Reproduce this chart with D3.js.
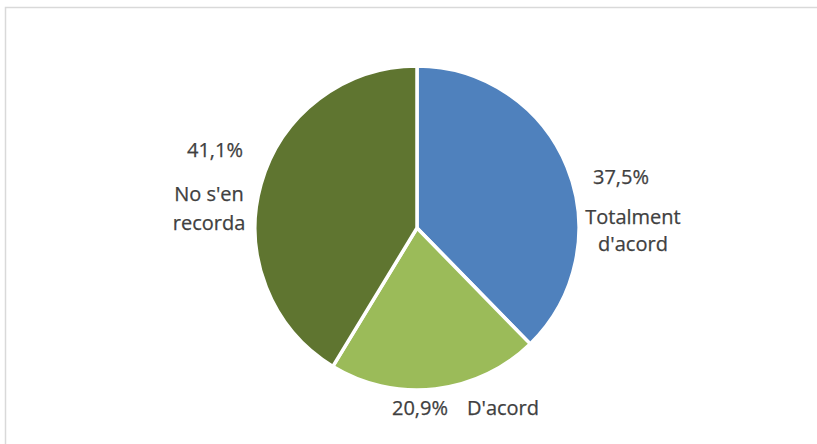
<!DOCTYPE html>
<html>
<head>
<meta charset="utf-8">
<script src="https://cdn.jsdelivr.net/npm/d3@7"></script>
<style>
  html, body { margin: 0; padding: 0; background: #fff; }
  svg { display: block; }
</style>
</head>
<body>
<svg id="chart" width="817" height="444"></svg>
<script>
const categories = ["Totalment d'acord", "D'acord", "No s'en recorda"];
const values = [37.5, 20.9, 41.1];
const percentLabels = ["37,5%", "20,9%", "41,1%"];
const nameLines = [["Totalment", "d'acord"], ["D'acord"], ["No s'en", "recorda"]];
const colors = ["#4F81BD", "#9BBB59", "#5F7530"];

const W = 817, H = 444;
const cx = 417, cy = 228, R = 162;
const svg = d3.select("#chart");

// chart area border
svg.append("rect")
  .attr("x", 5.5).attr("y", 7.5)
  .attr("width", W + 10).attr("height", H + 10)
  .attr("fill", "none").attr("stroke", "#d9d9d9").attr("stroke-width", 1.5);

const pie = d3.pie().value(d => d).sort(null);
const arcs = pie(values);
const arc = d3.arc().innerRadius(0).outerRadius(R);

const g = svg.append("g").attr("transform", `translate(${cx},${cy})`);
g.selectAll("path").data(arcs).enter().append("path")
  .attr("d", arc)
  .attr("fill", (d, i) => colors[i])
  .attr("stroke", "#fff")
  .attr("stroke-width", 3.5)
  .attr("stroke-linejoin", "miter");

// label layout (offsets relative to pie centre)
const fontSize = 20;
const layout = [
  { pct: { x: 204, y: -44, anchor: "middle" }, name: { x: 216, y: [-4, 23], anchor: "middle" } },
  { pct: { x: -25, y: 187, anchor: "start" }, name: { x: 50, y: [187], anchor: "start" } },
  { pct: { x: -202, y: -71, anchor: "middle" }, name: { x: -208, y: [-27, 2], anchor: "middle" } }
];

const text = svg.append("g")
  .attr("transform", `translate(${cx},${cy})`)
  .style("font-family", "'Open Sans', 'Noto Sans', sans-serif")
  .style("font-size", fontSize + "px")
  .attr("fill", "#404040")
  .attr("stroke", "#404040")
  .attr("stroke-width", 0.25);

arcs.forEach((a, i) => {
  const L = layout[i];
  text.append("text")
    .attr("x", L.pct.x).attr("y", L.pct.y)
    .attr("text-anchor", L.pct.anchor)
    .text(percentLabels[i]);
  nameLines[i].forEach((line, j) => {
    text.append("text")
      .attr("x", L.name.x).attr("y", L.name.y[j])
      .attr("text-anchor", L.name.anchor)
      .text(line);
  });
});
</script>
</body>
</html>
